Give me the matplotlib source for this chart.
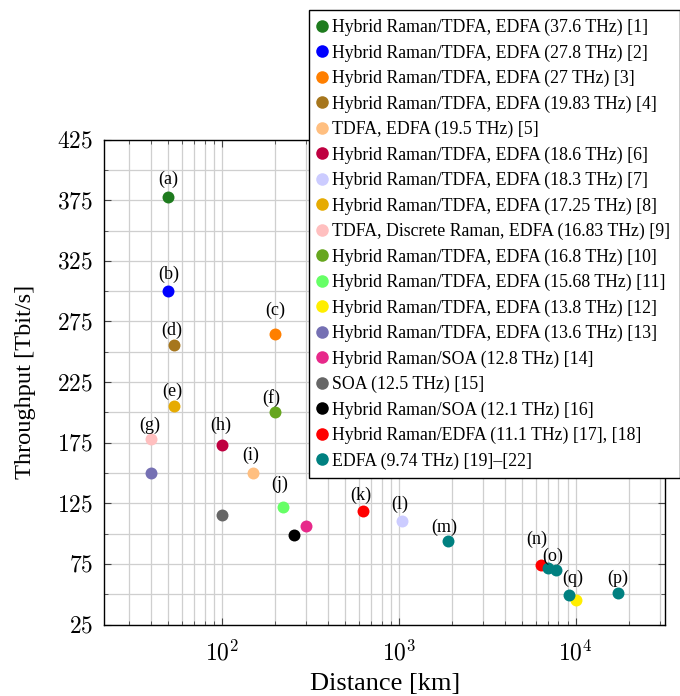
import math
import matplotlib
matplotlib.use('Agg')
import matplotlib.pyplot as plt
from matplotlib.ticker import LogLocator, FixedLocator, NullFormatter, FuncFormatter

plt.rcParams['font.family'] = ['Liberation Serif', 'DejaVu Serif']
plt.rcParams['mathtext.fontset'] = 'cm'

# ---------------- data ----------------
series_labels = [
    "Hybrid Raman/TDFA, EDFA (37.6 THz) [1]",
    "Hybrid Raman/TDFA, EDFA (27.8 THz) [2]",
    "Hybrid Raman/TDFA, EDFA (27 THz) [3]",
    "Hybrid Raman/TDFA, EDFA (19.83 THz) [4]",
    "TDFA, EDFA (19.5 THz) [5]",
    "Hybrid Raman/TDFA, EDFA (18.6 THz) [6]",
    "Hybrid Raman/TDFA, EDFA (18.3 THz) [7]",
    "Hybrid Raman/TDFA, EDFA (17.25 THz) [8]",
    "TDFA, Discrete Raman, EDFA (16.83 THz) [9]",
    "Hybrid Raman/TDFA, EDFA (16.8 THz) [10]",
    "Hybrid Raman/TDFA, EDFA (15.68 THz) [11]",
    "Hybrid Raman/TDFA, EDFA (13.8 THz) [12]",
    "Hybrid Raman/TDFA, EDFA (13.6 THz) [13]",
    "Hybrid Raman/SOA (12.8 THz) [14]",
    "SOA (12.5 THz) [15]",
    "Hybrid Raman/SOA (12.1 THz) [16]",
    "Hybrid Raman/EDFA (11.1 THz) [17], [18]",
    "EDFA (9.74 THz) [19]\u2013[22]",
]
series_colors = [
    '#1e7b1e', '#0000ff', '#ff7f00', '#a6761d', '#ffbf80', '#bf0040',
    '#ccccff', '#e6ab02', '#ffbfbf', '#66a61e', '#66ff66', '#ffee00',
    '#7570b3', '#e7298a', '#666666', '#000000', '#ff0000', '#008080',
]
distance_km = [
    [50], [50], [200], [54], [150], [100], [1040], [54], [40], [200],
    [223], [10000], [40], [300], [100], [257], [630, 6340],
    [1900, 7000, 7700, 9150, 17300],
]
throughput_tbps = [
    [378], [300], [264.5], [256], [150], [173], [110], [205.5], [178], [200],
    [122], [45], [150], [106], [115], [98.6], [119, 74],
    [94, 71.4, 70, 49, 51],
]
# point tags (letter) per series point
point_tags = [
    ['(a)'], ['(b)'], ['(c)'], ['(d)'], ['(i)'], ['(h)'], ['(l)'], ['(e)'],
    ['(g)'], ['(f)'], ['(j)'], ['(q)'], [None], [None], [None], [None],
    ['(k)', '(n)'], ['(m)', '(o)', None, None, '(p)'],
]
# label offsets in pixels (dx, dy upward) -- styling only
tag_offsets_px = {
    '(a)': (0, 17), '(b)': (0, 17), '(c)': (0, 23.5), '(d)': (-2.3, 14.3),
    '(e)': (-2.3, 14.7), '(f)': (-4, 14.4), '(g)': (-2, 13.6), '(h)': (-1, 19.3),
    '(i)': (-2, 18), '(j)': (-3.3, 22.4), '(k)': (-2.6, 15.3), '(l)': (-2.3, 17),
    '(m)': (-3.7, 14), '(n)': (-4, 26), '(o)': (4.4, 12.3), '(q)': (-3.3, 21.7),
    '(p)': (0, 14.7),
}

x_limits = (21.7, 32000)
y_limits = (25, 425)
y_major_ticks = [25, 75, 125, 175, 225, 275, 325, 375, 425]
y_minor_ticks = [50, 100, 150, 200, 250, 300, 350, 400]

# ---------------- figure ----------------
W, H, DPI = 680, 696, 100
fig = plt.figure(figsize=(W / DPI, H / DPI), dpi=DPI)
L, R, T, B = 104.3, 665, 139.7, 624.5
ax = fig.add_axes([L / W, 1 - B / H, (R - L) / W, (B - T) / H])
ax.set_xscale('log')
ax.set_xlim(*x_limits)
ax.set_ylim(*y_limits)

ax.set_yticks(y_major_ticks)
ax.yaxis.set_minor_locator(FixedLocator(y_minor_ticks))
ax.yaxis.set_major_formatter(FuncFormatter(lambda v, p: r'$%d$' % v))
ax.xaxis.set_major_locator(LogLocator(base=10, numticks=10))
ax.xaxis.set_minor_locator(LogLocator(base=10, subs=range(2, 10), numticks=20))
ax.xaxis.set_minor_formatter(NullFormatter())
ax.xaxis.set_major_formatter(FuncFormatter(lambda v, p: r'$10^{%d}$' % round(math.log10(v))))

ax.grid(True, which='both', color='#cfcfcf', linewidth=0.9, zorder=0)
ax.set_axisbelow(True)
ax.tick_params(which='both', direction='in', top=True, right=True, color='#444444')
ax.tick_params(which='major', length=5, width=0.8)
ax.tick_params(which='minor', length=3, width=0.6)
ax.tick_params(axis='y', labelsize=17, pad=8)
ax.tick_params(axis='x', labelsize=17, pad=11)
for s in ax.spines.values():
    s.set_linewidth(1.0)
    s.set_color('black')

px2pt = 72 / DPI
for lab, col, xs, ys, tags in zip(series_labels, series_colors, distance_km, throughput_tbps, point_tags):
    ax.plot(xs, ys, linestyle='none', marker='o', markersize=8.6, color=col,
            markeredgewidth=0, label=lab, zorder=3, clip_on=False)
    for xv, yv, tg in zip(xs, ys, tags):
        if tg:
            dx, dy = tag_offsets_px[tg]
            ax.annotate(tg, (xv, yv), xytext=(dx * px2pt, dy * px2pt),
                        textcoords='offset points', ha='center', va='center',
                        fontsize=13, zorder=4)

ax.set_xlabel('Distance [km]', fontsize=19, labelpad=5.5)
ax.set_ylabel('Throughput [Tbit/s]', fontsize=17.6, labelpad=15)

leg = ax.legend(loc='upper right', bbox_to_anchor=(679.5 / W, 1 - 10 / H),
                bbox_transform=fig.transFigure, fontsize=12.8, frameon=True,
                fancybox=False, edgecolor='black', framealpha=1,
                borderpad=0.5, handlelength=0.46, handletextpad=0.35,
                labelspacing=0.46, borderaxespad=0, markerscale=1.05)
leg.get_frame().set_linewidth(1.0)
leg.set_zorder(10)

fig.savefig('out.png', dpi=DPI)
